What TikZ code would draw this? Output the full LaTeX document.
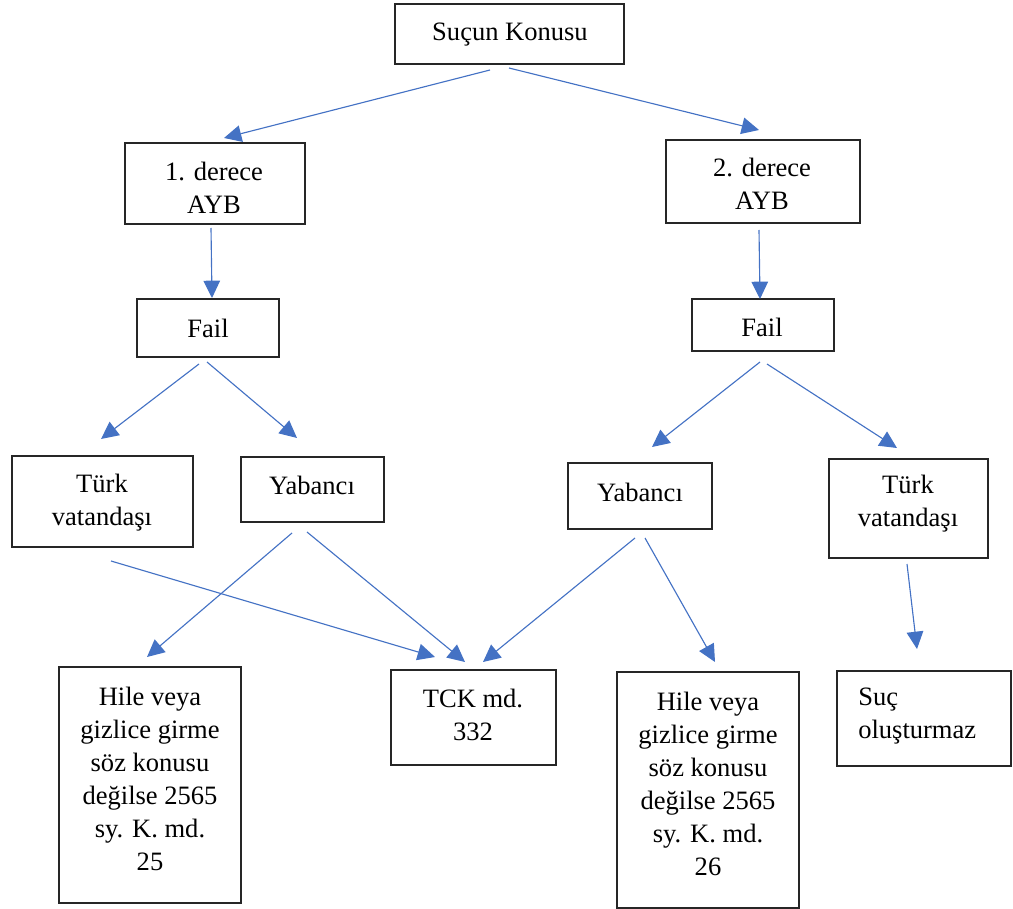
\documentclass[tikz,border=0pt]{standalone}
\usepackage{fontspec}
\setmainfont{Liberation Serif}
\usetikzlibrary{fit,arrows.meta}
\definecolor{linkblue}{HTML}{4472C4}
\begin{document}
\begin{tikzpicture}[x=0.75pt,y=-0.75pt,
  box/.style={draw=black!85,line width=0.9pt,inner sep=0pt},
  txt/.style={align=center,inner sep=0pt,font=\fontsize{19.9pt}{24.75pt}\selectfont},
  arr/.style={draw=linkblue,line width=0.85pt,-{Triangle[length=13pt,width=12.5pt]}}]
\useasboundingbox (0,0) rectangle (1013,909);

% boxes
\node[box,fit={(395,4) (624,64)}] (konu) {};
\node[box,fit={(125,143) (305,224)}] (d1) {};
\node[box,fit={(666,140) (860,223)}] (d2) {};
\node[box,fit={(137,299) (279,357)}] (fail1) {};
\node[box,fit={(692,299) (834,351)}] (fail2) {};
\node[box,fit={(12,456) (193,547)}] (turk1) {};
\node[box,fit={(241,457) (384,522)}] (yab1) {};
\node[box,fit={(568,463) (712,529)}] (yab2) {};
\node[box,fit={(829,459) (988,558)}] (turk2) {};
\node[box,fit={(59,667) (241,903)}] (hile1) {};
\node[box,fit={(391,670) (556,765)}] (tck) {};
\node[box,fit={(617,672) (799,908)}] (hile2) {};
\node[box,fit={(837,671) (1011,766)}] (suc) {};

% texts
\node[txt] (konu-t) at (510,35) {Suçun Konusu};
\node[txt] (d1-t) at (214,188) {1. derece\\AYB};
\node[txt] (d2-t) at (762,184) {2. derece\\AYB};
\node[txt] (fail1-t) at (208,328) {Fail};
\node[txt] (fail2-t) at (762,327) {Fail};
\node[txt] (turk1-t) at (102,503) {Türk\\vatandaşı};
\node[txt] (yab1-t) at (312,485) {Yabancı};
\node[txt] (yab2-t) at (640,492) {Yabancı};
\node[txt] (turk2-t) at (908,504) {Türk\\vatandaşı};
\node[txt] (hile1-t) at (150,779) {Hile veya\\gizlice girme\\söz konusu\\değilse 2565\\sy. K. md.\\25};
\node[txt] (tck-t) at (473,715) {TCK md.\\332};
\node[txt] (hile2-t) at (708,784) {Hile veya\\gizlice girme\\söz konusu\\değilse 2565\\sy. K. md.\\26};
\node[txt,align=left,anchor=west] (suc-t) at (858,716) {Suç\\oluşturmaz};

% connector ends
\coordinate (konu-l) at (490,70);
\coordinate (konu-r) at (509,68);
\coordinate (d1-in) at (224,138);
\coordinate (d2-in) at (759,130);
\coordinate (d1-out) at (211,228);
\coordinate (d2-out) at (759,230);
\coordinate (fail1-in) at (212,298);
\coordinate (fail2-in) at (760,299);
\coordinate (fail1-l) at (199,364);
\coordinate (fail1-r) at (207,362);
\coordinate (fail2-l) at (760,362);
\coordinate (fail2-r) at (767,364);
\coordinate (turk1-in) at (101,439);
\coordinate (yab1-in) at (297,438);
\coordinate (yab2-in) at (652,447);
\coordinate (turk2-in) at (897,448);
\coordinate (turk1-out) at (111,561);
\coordinate (yab1-l) at (292,533);
\coordinate (yab1-r) at (307,532);
\coordinate (yab2-l) at (635,538);
\coordinate (yab2-r) at (645,538);
\coordinate (turk2-out) at (907,564);
\coordinate (hile1-in) at (147,657);
\coordinate (tck-in1) at (435,657);
\coordinate (tck-in2) at (465,662);
\coordinate (tck-in3) at (483,662);
\coordinate (hile2-in) at (715,662);
\coordinate (suc-in) at (917,649);

% connectors
\draw[arr] (konu-l) -- (d1-in);
\draw[arr] (konu-r) -- (d2-in);
\draw[arr] (d1-out) -- (fail1-in);
\draw[arr] (d2-out) -- (fail2-in);
\draw[arr] (fail1-l) -- (turk1-in);
\draw[arr] (fail1-r) -- (yab1-in);
\draw[arr] (fail2-l) -- (yab2-in);
\draw[arr] (fail2-r) -- (turk2-in);
\draw[arr] (turk1-out) -- (tck-in1);
\draw[arr] (yab1-l) -- (hile1-in);
\draw[arr] (yab1-r) -- (tck-in2);
\draw[arr] (yab2-l) -- (tck-in3);
\draw[arr] (yab2-r) -- (hile2-in);
\draw[arr] (turk2-out) -- (suc-in);
\end{tikzpicture}
\end{document}
